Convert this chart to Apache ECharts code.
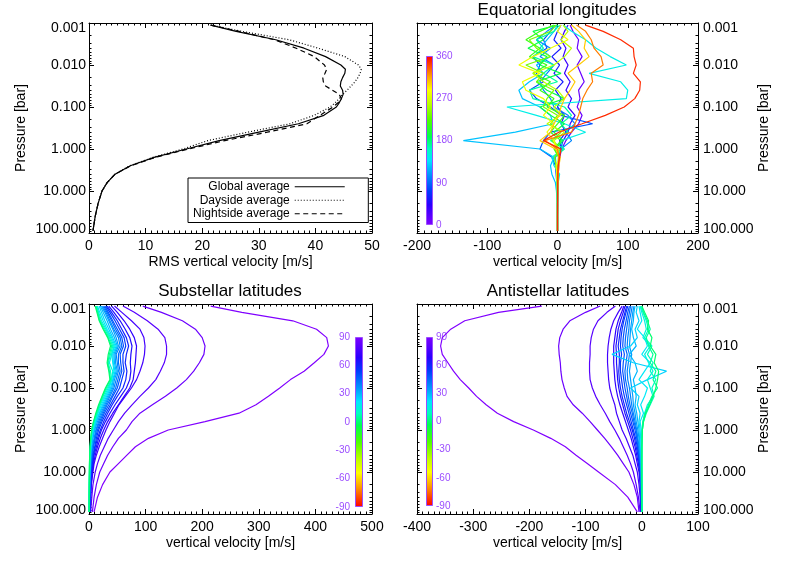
<!DOCTYPE html>
<html>
<head>
<meta charset="utf-8">
<script src="https://cdn.jsdelivr.net/npm/echarts/dist/echarts.min.js"></script>
<style>
html, body { margin: 0; padding: 0; background: #fff; }
#chart { width: 789px; height: 563px; }
</style>
</head>
<body>
<div id="chart"></div>
<script>
// pressure levels [bar]
const pAvg = [0.00112, 0.00158, 0.00251, 0.00398, 0.00631, 0.0100, 0.0126, 0.0158, 0.0200, 0.0251,
  0.0316, 0.0398, 0.0501, 0.0631, 0.0794, 0.100, 0.158, 0.251, 0.398, 0.631,
  1.00, 1.58, 2.51, 3.98, 6.31, 10.0, 20.0, 39.8, 89.1];
const pLev = [0.00112, 0.00158, 0.00251, 0.00398, 0.00631, 0.0100, 0.0158, 0.0251, 0.0398, 0.0631,
  0.100, 0.158, 0.251, 0.398, 0.631, 1.00, 1.58, 2.51, 3.98, 6.31, 10.0, 20.0, 39.8, 89.1];

// RMS vertical velocity [m/s]
const globalAvg = [21.5, 26, 33, 38, 41.8, 44.5, 45.3, 45.2, 44.8, 44.5, 44.4, 44.8, 44.9, 44.6, 44.2,
  43.7, 41.5, 37, 30, 23, 17.2, 11.5, 7.3, 4.6, 3.2, 2.3, 1.6, 1.1, 0.7];
const daysideAvg = [21.5, 27, 35.4, 40.5, 45.2, 47.6, 48.1, 47.9, 47.5, 47, 46.3, 45.6, 44.8, 44.2, 43.5,
  42.6, 39.8, 35.5, 28, 21, 16.6, 11.3, 7.2, 4.6, 3.2, 2.3, 1.6, 1.1, 0.7];
const nightsideAvg = [21.5, 26.5, 32.8, 36.6, 39.8, 41.6, 42, 41.7, 41.3, 41.4, 41.8, 43, 44.2, 44.6, 44,
  43.1, 40.8, 38.5, 31.5, 24, 17.6, 11.7, 7.4, 4.6, 3.2, 2.3, 1.6, 1.1, 0.7];

// equatorial longitudes [deg] and vertical velocity profiles
const eqLon = [11.25, 33.75, 56.25, 78.75, 101.25, 123.75, 146.25, 168.75,
  191.25, 213.75, 236.25, 258.75, 281.25, 303.75, 326.25, 348.75];
const eqVel = [
  [18, 22, 30, 28, 35, 28, 33, 38, 30, 32, 28, 35, 30, 20, 12, 6, 3, 2, 1, 0.5, 0.3, 0.2, 0.1, 0.1],
  [15, 10, 5, 12, 8, 15, 10, 18, 12, 20, 15, 25, 18, 15, 8, 4, 2, 1, 0.5, 0.3, 0.2, 0.1, 0.1, 0],
  [5, 0, -5, 5, -8, 3, -5, 8, -3, 5, 0, 10, 5, 12, 3, 5, 2, 1, 0.5, 0.3, 0.2, 0.1, 0, 0],
  [-3, -10, -20, -15, -35, -25, -30, -20, -40, -30, -10, 5, 50, -10, -20, -25, -8, -3, -2, -1, -0.5, -0.3, -0.1, 0],
  [-1, -15, -30, -10, -25, -5, -15, -25, -20, -10, -5, 15, 25, 12, 20, 5, -3, -2, -1, -0.5, -0.3, -0.1, 0, 0],
  [0, -5, -15, -25, -10, -30, -20, -40, -55, -50, -25, -10, -6, -60, -134, -25, -5, -10, -8, -3, -1.5, -0.5, -0.2, 0],
  [8, 20, 40, 55, 75, 98, 45, 90, 100, 98, -72, -30, 10, 40, 5, 8, -8, -5, 3, 1, 0.5, 0.2, 0.1, 0],
  [3, -5, -30, -20, -35, -5, -20, 0, -40, -35, 10, 20, 5, 15, -10, 10, -5, -2, -1, -0.5, -0.3, -0.1, 0, 0],
  [0, -35, -20, -42, -15, -25, 5, -30, -15, 10, -25, -10, 10, -5, 8, -4, 2, 1, 0.5, 0.3, 0.2, 0.1, 0, 0],
  [-5, -25, -45, -25, -40, -15, -35, -10, -25, -5, -15, 10, 0, -10, 5, -5, 2, 1, 0.5, 0.3, 0.1, 0, 0, 0],
  [-2, -10, -40, -30, -10, -45, -20, -30, -5, -15, -20, 0, -10, 5, -8, 3, -4, -2, -1, -0.5, -0.2, -0.1, 0, 0],
  [8, 15, 5, 20, 10, -5, -35, -20, 0, 10, -5, 5, -15, 10, -5, 2, 1, 0.5, 0.3, 0.2, 0.1, 0, 0, 0],
  [5, 0, 15, -10, -35, -55, -25, -50, -45, -20, -10, -20, -5, -15, -5, -2, 3, -2, -1, -0.5, -0.2, -0.1, 0, 0],
  [20, 30, 40, 38, 45, 30, 15, 25, 18, 10, 5, 2, -5, -10, -25, -3, 4, 2, 1, 0.5, 0.2, 0.1, 0, 0],
  [27, 40, 48, 52, 62, 65, 48, 50, 42, 36, 33, 30, 25, 20, -18, 0, 2, 1, 0.5, 0.3, 0.2, 0.1, 0, 0],
  [40, 65, 90, 108, 109, 112, 108, 118, 117, 110, 95, 68, 35, 2, -20, 5, 3, 1, 0.5, 0.3, 0.2, 0.1, 0, 0]
];

// substellar / antistellar latitudes [deg]
const latList = [90, 85, 80, 75, 70, 65, 60, 55, 50, 45, 40, 35, 30, 25, 20, 15, 10, 5, 0];
const subVel = [
  [215, 270, 360, 402, 420, 423, 415, 398, 380, 356, 337, 317, 295, 265, 205, 140, 105, 82, 67, 52, 37, 24, 15, 9],
  [95, 128, 165, 188, 200, 205, 203, 195, 185, 172, 155, 135, 112, 90, 76, 66, 52, 42, 33, 26, 19, 13, 9, 6],
  [60, 80, 103, 122, 134, 137, 137, 133, 126, 118, 105, 90, 76, 63, 52, 43, 34, 27, 20, 15, 11, 7, 5, 3],
  [45, 58, 75, 90, 97, 99, 98, 95, 90, 84, 75, 64, 53, 45, 37, 30, 24, 18, 13, 9, 7, 4, 3, 2],
  [40, 50, 62, 72, 80, 84, 83, 82, 80, 78, 72, 62, 52, 42, 33, 26, 20, 15, 11, 8, 6, 4, 3, 2],
  [35, 44, 55, 64, 72, 76, 74, 73, 74, 72, 66, 56, 46, 37, 29, 22, 17, 13, 9, 7, 5, 3, 2, 1.5],
  [32, 40, 50, 58, 66, 70, 66, 64, 67, 65, 60, 50, 41, 33, 26, 20, 15, 11, 8, 6, 4, 3, 2, 1.2],
  [30, 37, 46, 54, 62, 65, 60, 60, 62, 58, 54, 46, 38, 30, 23, 17, 13, 10, 7, 5, 3.5, 2.5, 1.6, 1],
  [28, 34, 42, 50, 58, 61, 55, 56, 58, 54, 50, 42, 35, 27, 21, 15, 11, 8, 6, 4, 3, 2, 1.3, 0.8],
  [26, 32, 40, 47, 55, 58, 52, 52, 55, 51, 47, 40, 32, 25, 19, 13, 10, 7, 5, 3.5, 2.5, 1.7, 1, 0.7],
  [24, 30, 37, 44, 52, 55, 48, 50, 52, 48, 44, 37, 30, 23, 17, 12, 9, 6, 4, 3, 2, 1.4, 0.9, 0.6],
  [22, 28, 35, 42, 48, 52, 46, 47, 50, 45, 42, 35, 28, 21, 15, 10, 7, 5, 3.5, 2.5, 1.7, 1.2, 0.8, 0.5],
  [20, 25, 32, 38, 45, 50, 44, 45, 48, 43, 40, 33, 26, 19, 13, 9, 6, 4, 3, 2, 1.4, 1, 0.7, 0.4],
  [18, 22, 28, 35, 42, 48, 42, 43, 46, 42, 38, 31, 24, 18, 12, 8, 5, 3.5, 2.5, 1.7, 1.2, 0.8, 0.6, 0.3],
  [15, 19, 25, 32, 40, 46, 40, 42, 44, 40, 36, 29, 22, 16, 11, 7, 4.5, 3, 2, 1.5, 1, 0.7, 0.5, 0.3],
  [14, 17, 22, 30, 38, 44, 40, 36, 42, 40, 34, 27, 20, 15, 10, 6, 4, 2.5, 1.8, 1.3, 0.9, 0.6, 0.4, 0.2],
  [13, 16, 20, 28, 36, 42, 38, 34, 38, 40, 32, 25, 19, 14, 9, 5, 3.5, 2.2, 1.5, 1, 0.8, 0.5, 0.3, 0.2],
  [12, 15, 19, 26, 34, 40, 36, 33, 36, 38, 30, 24, 18, 13, 8, 5, 3, 2, 1.3, 0.9, 0.7, 0.4, 0.3, 0.2],
  [11, 14, 18, 25, 33, 38, 34, 32, 35, 37, 29, 23, 17, 12, 8, 4.5, 3, 2, 1.2, 0.8, 0.6, 0.4, 0.3, 0.2]
];
const antiVel = [
  [-178, -255, -315, -340, -355, -358, -355, -345, -335, -323, -308, -294, -277, -257, -228, -193, -162, -136, -117, -97, -77, -47, -25, -8],
  [-74, -100, -128, -140, -146, -148, -147, -145, -144, -142, -138, -133, -122, -106, -92, -79, -66, -54, -43, -33, -23, -14, -8, -5],
  [-47, -62, -78, -86, -90, -92, -92, -93, -93, -92, -88, -82, -74, -65, -57, -48, -40, -33, -26, -20, -15, -10, -6, -3],
  [-35, -42, -50, -55, -58, -60, -61, -61, -60, -59, -57, -53, -48, -45, -40, -35, -28, -22, -16, -12, -8, -5, -3, -1.5],
  [-32, -36, -42, -46, -48, -50, -50, -50, -49, -48, -46, -43, -39, -34, -29, -24, -19, -15, -11, -8, -5, -3, -2, -1],
  [-30, -33, -38, -42, -44, -46, -45, -45, -44, -43, -41, -38, -34, -30, -25, -20, -16, -12, -9, -6, -4, -2.5, -1.5, -1],
  [-27, -30, -34, -38, -40, -42, -40, -40, -41, -40, -38, -35, -31, -27, -22, -17, -13, -10, -7, -5, -3, -2, -1.2, -0.7],
  [-25, -28, -32, -35, -37, -38, -36, -38, -38, -36, -34, -31, -27, -23, -19, -15, -11, -8, -6, -4, -2.5, -1.5, -1, -0.5],
  [-22, -25, -28, -31, -33, -34, -31, -33, -34, -32, -30, -27, -24, -20, -16, -12, -9, -7, -5, -3, -2, -1.2, -0.8, -0.4],
  [-20, -22, -25, -27, -29, -30, -26, -28, -30, -29, -26, -24, -21, -17, -14, -10, -8, -6, -4, -2.5, -1.5, -1, -0.6, -0.3],
  [-17, -19, -22, -23, -25, -26, -22, -24, -26, -25, -22, -20, -18, -15, -12, -9, -7, -5, -3, -2, -1.2, -0.8, -0.5, -0.2],
  [-14, -16, -18, -20, -21, -22, -18, -20, -22, -20, -18, -16, -15, -12, -10, -7, -5, -4, -2.5, -1.5, -1, -0.6, -0.4, -0.2],
  [-12, -14, -15, -18, -15, -10, -22, -12, -8, -15, -12, -10, -12, -9, -7, -5, -4, -3, -2, -1.2, -0.8, -0.5, -0.3, -0.1],
  [-8, -10, -5, -12, -8, -20, -53, -15, 44, 10, -20, -5, -8, -3, -5, -3, -2, -1.5, -1, -0.8, -0.5, -0.3, -0.2, -0.1],
  [-5, -3, 0, -8, 5, 10, 0, 15, 5, -5, 10, 5, -2, 3, -3, -1, -1, -0.8, -0.5, -0.3, -0.2, -0.1, -0.1, 0],
  [-3, 0, 5, 8, 2, 15, 5, 12, 20, 10, 15, 20, 10, 5, 2, 0, -0.5, -0.3, -0.2, -0.1, 0, 0, 0, 0],
  [-2, 2, 8, 12, 5, 18, 10, 20, 15, 25, 18, 22, 15, 8, 3, 1, 0.5, 0.2, 0.1, 0, 0, 0, 0, 0],
  [0, 3, 10, 15, 8, 12, 20, 15, 25, 20, 28, 18, 12, 6, 2, 1, 0.5, 0.2, 0.1, 0, 0, 0, 0, 0],
  [0, 5, 12, 10, 18, 15, 25, 22, 30, 28, 25, 20, 14, 7, 3, 1, 0.5, 0.2, 0.1, 0, 0, 0, 0, 0]
];

// colour table (IDL-like rainbow)
const rainbowStops = [
  [0.00, [128, 0, 255]], [0.12, [40, 0, 255]], [0.20, [0, 60, 255]], [0.30, [0, 150, 255]],
  [0.38, [0, 230, 255]], [0.45, [0, 255, 190]], [0.52, [0, 255, 80]], [0.62, [80, 255, 0]],
  [0.72, [190, 255, 0]], [0.80, [255, 255, 0]], [0.88, [255, 160, 0]], [1.00, [255, 0, 0]]
];
function rainbow(t) {
  t = Math.max(0, Math.min(1, t));
  for (let i = 1; i < rainbowStops.length; i++) {
    const a = rainbowStops[i - 1], b = rainbowStops[i];
    if (t <= b[0]) {
      const f = (t - a[0]) / (b[0] - a[0]);
      const c = a[1].map((v, k) => Math.round(v + (b[1][k] - v) * f));
      return 'rgb(' + c.join(',') + ')';
    }
  }
  return 'rgb(255,0,0)';
}
const gradStops = rainbowStops.map(s => ({ offset: s[0], color: 'rgb(' + s[1].join(',') + ')' }));

const purple = '#9b4dff';
const font = 'Liberation Sans';
const minorLog = [];
for (let k = -3; k < 2; k++) {
  for (let m = 2; m <= 9; m++) minorLog.push(Number((m * Math.pow(10, k)).toPrecision(3)));
}

const grids = [
  { left: 89, top: 23, width: 283, height: 210 },
  { left: 417, top: 23, width: 281, height: 210 },
  { left: 89, top: 304, width: 283, height: 210 },
  { left: 417, top: 304, width: 281, height: 210 },
  // colour bars
  { left: 426, top: 56, width: 7, height: 169 },
  { left: 355, top: 337, width: 8, height: 170 },
  { left: 426, top: 337, width: 7, height: 169 }
];

const panelX = [
  { min: 0, max: 50, interval: 10, name: 'RMS vertical velocity [m/s]' },
  { min: -200, max: 200, interval: 100, name: 'vertical velocity [m/s]' },
  { min: 0, max: 500, interval: 100, name: 'vertical velocity [m/s]' },
  { min: -400, max: 100, interval: 100, name: 'vertical velocity [m/s]' }
];
const labelSide = ['left', 'right', 'left', 'right'];

const black = { color: '#000', width: 1 };
const xAxis = [];
const yAxis = [];
panelX.forEach((px, i) => {
  ['bottom', 'top'].forEach(pos => {
    xAxis.push({
      gridIndex: i, type: 'value', position: pos, min: px.min, max: px.max, interval: px.interval,
      axisLine: { show: true, onZero: false, lineStyle: black },
      axisTick: { show: true, inside: true, length: 5, lineStyle: black },
      minorTick: { show: true, splitNumber: 10, length: 2.5, lineStyle: black },
      splitLine: { show: false },
      axisLabel: { show: pos === 'bottom', color: '#000', fontSize: 14, margin: 6, fontFamily: font },
      name: pos === 'bottom' ? px.name : '', nameLocation: 'middle', nameGap: 22,
      nameTextStyle: { color: '#000', fontSize: 14, fontFamily: font }
    });
  });
  const main = labelSide[i];
  const other = main === 'left' ? 'right' : 'left';
  [main, main, other, other].forEach((pos, j) => {
    const isMinor = j % 2 === 1;
    const ax = {
      gridIndex: i, type: 'log', logBase: 10, min: 0.001, max: 100, inverse: true, position: pos,
      axisLine: { show: !isMinor, onZero: false, lineStyle: black },
      axisTick: { show: true, inside: true, length: isMinor ? 2.5 : 5, lineStyle: black },
      splitLine: { show: false },
      axisLabel: { show: false }
    };
    if (isMinor) ax.axisTick.customValues = minorLog;
    if (j === 0) {
      ax.axisLabel = {
        show: true, color: '#000', fontSize: 14, margin: main === 'left' ? 3 : 5, fontFamily: font,
        formatter: function (v) {
          const e = Math.round(Math.log10(v));
          const s = Math.pow(10, e).toFixed(3);
          if (e === -3) return '{top|' + s + '}';
          if (e === 2) return '{bot|' + s + '}';
          return s;
        },
        rich: {
          top: { fontSize: 14, fontFamily: font, color: '#000', padding: [10, 0, 0, 0] },
          bot: { fontSize: 14, fontFamily: font, color: '#000', padding: [0, 0, 8, 0] }
        }
      };
      ax.name = 'Pressure [bar]';
      ax.nameLocation = 'middle';
      ax.nameRotate = 90;
      ax.nameGap = main === 'left' ? 61 : 57;
      ax.nameTextStyle = { color: '#000', fontSize: 14, fontFamily: font };
    }
    yAxis.push(ax);
  });
});

// colour bar axes
const cbRange = [
  { min: 0, max: 360, interval: 90, side: 'right', dir: [0, 1, 0, 0] },
  { min: -90, max: 90, interval: 30, side: 'left', dir: [0, 0, 0, 1] },
  { min: -90, max: 90, interval: 30, side: 'right', dir: [0, 0, 0, 1] }
];
cbRange.forEach((cb, c) => {
  xAxis.push({ gridIndex: 4 + c, type: 'category', data: ['c'], show: false });
  yAxis.push({ gridIndex: 4 + c, type: 'value', min: 0, max: 1, show: false });
  yAxis.push({
    gridIndex: 4 + c, type: 'value', min: cb.min, max: cb.max, interval: cb.interval, position: cb.side,
    axisLine: { show: false }, axisTick: { show: false }, splitLine: { show: false },
    axisLabel: { color: purple, fontSize: 10, margin: cb.side === 'left' ? 5 : 3, fontFamily: font }
  });
});

function pairs(vel, p) {
  return vel.map((v, k) => [v, p[k]]);
}
const series = [];
function addLine(name, panel, vel, p, color, type, width) {
  series.push({
    name: name, type: 'line', xAxisIndex: 2 * panel, yAxisIndex: 4 * panel,
    data: pairs(vel, p), symbol: 'none', showSymbol: false, silent: true,
    lineStyle: { color: color, width: width, type: type },
    itemStyle: { color: color }
  });
}
addLine('Global average', 0, globalAvg, pAvg, '#000', 'solid', 1.2);
addLine('Dayside average', 0, daysideAvg, pAvg, '#000', [1, 2], 1.2);
addLine('Nightside average', 0, nightsideAvg, pAvg, '#000', [5, 3.5], 1.2);
eqVel.forEach((vel, k) => addLine('lon' + eqLon[k], 1, vel, pLev, rainbow(eqLon[k] / 360), 'solid', 1.2));
subVel.forEach((vel, k) => addLine('sub' + latList[k], 2, vel, pLev, rainbow((90 - latList[k]) / 180), 'solid', 1.2));
antiVel.forEach((vel, k) => addLine('anti' + latList[k], 3, vel, pLev, rainbow((90 - latList[k]) / 180), 'solid', 1.2));

cbRange.forEach((cb, c) => {
  series.push({
    type: 'bar', xAxisIndex: 8 + c, yAxisIndex: 16 + 2 * c, data: [1], barWidth: '100%', silent: true,
    itemStyle: {
      color: new echarts.graphic.LinearGradient(cb.dir[0], cb.dir[1], cb.dir[2], cb.dir[3], gradStops),
      borderColor: purple, borderWidth: 1
    }
  });
});

const titleStyle = { color: '#000', fontSize: 17, fontWeight: 'normal', fontFamily: font };
const option = {
  animation: false,
  backgroundColor: '#fff',
  textStyle: { fontFamily: font },
  title: [
    { text: 'Equatorial longitudes', left: 557, top: 2, textAlign: 'center', padding: 0, textStyle: titleStyle },
    { text: 'Substellar latitudes', left: 230, top: 283, textAlign: 'center', padding: 0, textStyle: titleStyle },
    { text: 'Antistellar latitudes', left: 558, top: 283, textAlign: 'center', padding: 0, textStyle: titleStyle }
  ],
  legend: {
    data: ['Global average', 'Dayside average', 'Nightside average'],
    orient: 'vertical', align: 'right', left: 188, top: 178,
    padding: [2, 23, 2, 5], itemWidth: 50, itemHeight: 10, itemGap: 0,
    selectedMode: false, backgroundColor: '#fff', borderColor: '#000', borderWidth: 1, borderRadius: 0,
    itemStyle: { opacity: 0 },
    lineStyle: { width: 1.2 },
    textStyle: { color: '#000', fontSize: 12, lineHeight: 13.5, fontFamily: font }
  },
  grid: grids,
  xAxis: xAxis,
  yAxis: yAxis,
  series: series
};

const myChart = echarts.init(document.getElementById('chart'));
myChart.setOption(option);
window.addEventListener('resize', function () {
  myChart.resize();
});
</script>
</body>
</html>
